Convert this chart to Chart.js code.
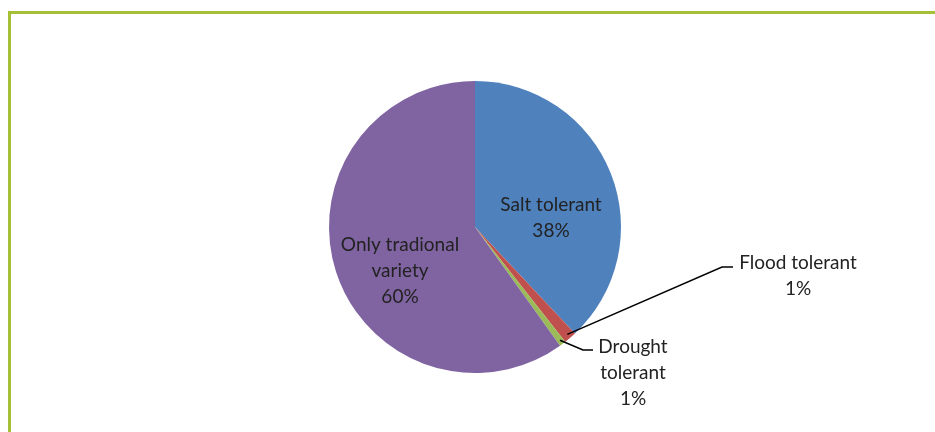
<!DOCTYPE html>
<html>
<head>
<meta charset="utf-8">
<script src="https://cdn.jsdelivr.net/npm/chart.js@4"></script>
<style>
    html, body { margin: 0; padding: 0; background: #fff; overflow: hidden; }
    #wrap { position: relative; width: 935px; height: 432px; }
    #frame {
        position: absolute; left: 8px; top: 11px; width: 1000px; height: 500px;
        border-left: 3px solid #A5BF36; border-top: 3px solid #A5BF36;
    }
    canvas { position: absolute; left: 0; top: 0; }
</style>
</head>
<body>
<div id="wrap">
    <div id="frame"></div>
    <canvas id="varietyChart" width="935" height="432"></canvas>
</div>
<script>
// Data
const categories = ['Salt tolerant', 'Flood tolerant', 'Drought tolerant', 'Only tradional variety'];
const shares = [38, 1.4, 0.7, 59.9];
const sliceColors = ['#4F81BD', '#C0504D', '#9BBB59', '#8064A2'];

// label lines per slice (text split) and placement
const labelLines = [['Salt tolerant'], ['Flood tolerant'], ['Drought', 'tolerant'], ['Only tradional', 'variety']];
const labelPos = [
    { x: 551, y: 205, inside: true },
    { x: 798, y: 263, elbow: { x: 722, y: 267 }, end: { x: 733, y: 267 } },
    { x: 633, y: 347, elbow: { x: 583, y: 350 }, end: { x: 593, y: 350 } },
    { x: 400, y: 245, inside: true }
];

const pieLabels = {
    id: 'pieLabels',
    afterDatasetsDraw(chart) {
        const ctx = chart.ctx;
        const meta = chart.getDatasetMeta(0);
        const total = shares.reduce((a, b) => a + b, 0);
        ctx.save();
        ctx.font = '19px Lato, "Open Sans", sans-serif';
        ctx.fillStyle = '#222';
        ctx.textAlign = 'center';
        ctx.textBaseline = 'middle';
        meta.data.forEach((arc, i) => {
            const pos = labelPos[i];
            const lines = labelLines[i].concat([Math.round(shares[i] / total * 100) + '%']);
            lines.forEach((t, k) => ctx.fillText(t, pos.x, pos.y + k * 26));
            if (!pos.inside) {
                // leader line from slice edge
                const mid = (arc.startAngle + arc.endAngle) / 2;
                const r = arc.outerRadius * 0.97;
                ctx.beginPath();
                ctx.moveTo(arc.x + Math.cos(mid) * r, arc.y + Math.sin(mid) * r);
                ctx.lineTo(pos.elbow.x, pos.elbow.y);
                ctx.lineTo(pos.end.x, pos.end.y);
                ctx.strokeStyle = '#000';
                ctx.lineWidth = 1.5;
                ctx.stroke();
            }
        });
        ctx.restore();
    }
};

new Chart(document.getElementById('varietyChart').getContext('2d'), {
    type: 'pie',
    data: {
        labels: categories,
        datasets: [{
            data: shares,
            backgroundColor: sliceColors,
            borderWidth: 0
        }]
    },
    options: {
        responsive: false,
        animation: false,
        layout: {
            padding: { left: 329, right: 314, top: 81, bottom: 59 }
        },
        plugins: {
            legend: { display: false },
            tooltip: { enabled: false }
        }
    },
    plugins: [pieLabels]
});
</script>
</body>
</html>
